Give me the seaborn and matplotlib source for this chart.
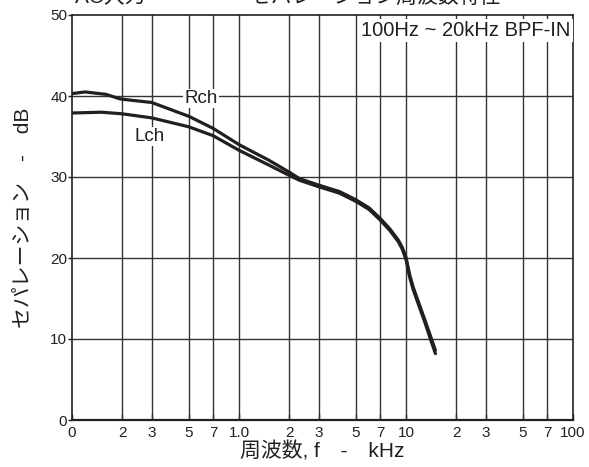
import numpy as np
import pandas as pd
import matplotlib
matplotlib.use('Agg')
import matplotlib.pyplot as plt
import seaborn as sns
from matplotlib.ticker import FixedLocator, FixedFormatter, NullLocator

# Datos (frecuencia en kHz, separación en dB)
freq_r = [0.1, 0.12, 0.16, 0.19, 0.2, 0.3, 0.5, 0.7, 1.0, 1.5, 2.0, 2.3,
          3.0, 4.0, 5.0, 6.0, 7.0, 8.0, 9.0, 9.5, 10.0, 10.5, 11.0, 12.0,
          13.0, 14.0, 15.0]
rch = [40.3, 40.5, 40.2, 39.7, 39.6, 39.2, 37.5, 36.0, 34.0, 32.1, 30.6, 29.8,
       29.0, 28.2, 27.2, 26.2, 24.9, 23.6, 22.2, 21.3, 20.1, 18.0, 16.5, 14.3,
       12.3, 10.4, 8.6]

freq_l = [0.1, 0.15, 0.2, 0.3, 0.5, 0.7, 1.0, 1.5, 2.0, 2.3,
          3.0, 4.0, 5.0, 6.0, 7.0, 8.0, 9.0, 9.5, 10.0, 10.5, 11.0, 12.0,
          13.0, 14.0, 15.0]
lch = [37.9, 38.0, 37.8, 37.3, 36.2, 35.1, 33.3, 31.5, 30.2, 29.6,
       28.8, 28.0, 27.0, 26.0, 24.7, 23.4, 22.0, 21.1, 19.8, 17.7, 16.2, 14.0,
       12.0, 10.0, 8.2]

grid_x = [0.2, 0.3, 0.5, 0.7, 1, 2, 3, 5, 7, 10, 20, 30, 50, 70]
tick_x = [0.1, 0.2, 0.3, 0.5, 0.7, 1, 2, 3, 5, 7, 10, 20, 30, 50, 70, 100]
tick_x_labels = ['0', '2', '3', '5', '7', '1.0', '2', '3', '5', '7', '10',
                 '2', '3', '5', '7', '100']
tick_y = [0, 10, 20, 30, 40, 50]

sns.set_theme(style="white")
plt.rcParams['font.family'] = ['Liberation Sans', 'Noto Sans CJK JP', 'DejaVu Sans']
color = '#231f20'

df_r = pd.DataFrame({'f': freq_r, 'dB': rch})
df_l = pd.DataFrame({'f': freq_l, 'dB': lch})

fig = plt.figure(figsize=(5.89, 4.67), dpi=100)
ax = fig.add_axes([72 / 589, 1 - 420 / 467, 501 / 589, 405 / 467])

for x in grid_x:
    ax.axvline(x, color='#333333', lw=1.0, zorder=1)
for y in tick_y[1:-1]:
    ax.axhline(y, color='#333333', lw=1.0, zorder=1)

sns.lineplot(data=df_r, x='f', y='dB', ax=ax, color=color, lw=2.3, zorder=3)
sns.lineplot(data=df_l, x='f', y='dB', ax=ax, color=color, lw=2.3, zorder=3)

ax.set_xscale('log')
ax.set_xlim(0.1, 100)
ax.set_ylim(0, 50)
ax.xaxis.set_major_locator(FixedLocator(tick_x))
ax.xaxis.set_major_formatter(FixedFormatter(tick_x_labels))
ax.xaxis.set_minor_locator(NullLocator())
ax.set_yticks(tick_y)
ax.tick_params(axis='x', direction='in', length=4, width=1, labelsize=11, pad=4, colors=color)
ax.tick_params(axis='y', direction='out', length=3, width=1, labelsize=11, pad=0.5, colors=color)
ax.tick_params(left=True, bottom=True)
for s in ax.spines.values():
    s.set_color(color)
    s.set_linewidth(1.2)
ax.spines['bottom'].set_linewidth(1.6)

ax.set_xlabel('周波数, f　-　kHz', fontsize=15, color=color, labelpad=1)
ax.set_ylabel('セパレーション　-　dB', fontsize=15, color=color, labelpad=12)

box = dict(facecolor='white', edgecolor='none', pad=1.0)
ax.text(0.59, 39.7, 'Rch', fontsize=13.5, color=color, ha='center', va='center', bbox=box, zorder=4)
ax.text(0.29, 35.0, 'Lch', fontsize=13.5, color=color, ha='center', va='center', bbox=box, zorder=4)
ax.text(97, 48.1, '100Hz ~ 20kHz BPF-IN', fontsize=14.5, color=color, ha='right', va='center',
        bbox=dict(facecolor='white', edgecolor='none', pad=1.5), zorder=4)

fig.text(75 / 589, 1 + 3 / 467, 'AC入力　　　　　セパレーション周波数特性', fontsize=15,
         color=color, ha='left', va='center')

fig.savefig('out.png', dpi=100)
